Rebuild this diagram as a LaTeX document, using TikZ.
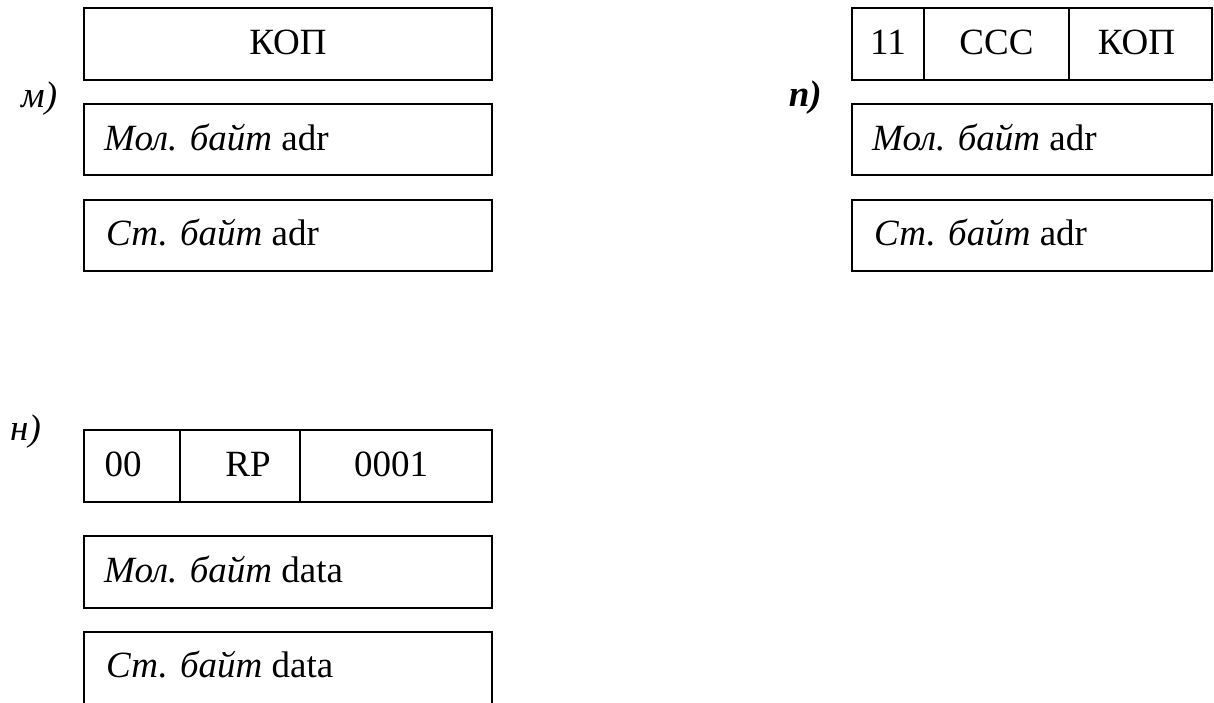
\documentclass[tikz,border=0pt]{standalone}
\usepackage{fontspec}
\setmainfont{Liberation Serif}
\begin{document}
\begin{tikzpicture}[x=1pt,y=-1pt,
  cell/.style={draw,line width=2pt,inner sep=0pt,outer sep=0pt},
  txt/.style={inner sep=0pt,anchor=base,font=\fontsize{37}{44}\selectfont},
  ltxt/.style={inner sep=0pt,anchor=base west,font=\fontsize{37}{44}\selectfont},
  lbl/.style={inner sep=0pt,font=\fontsize{37}{44}\selectfont\itshape}]
\useasboundingbox (0,0) rectangle (1214,702);
% м)
\node[lbl,anchor=base west] (lm) at (21,107) {м)};
\node[cell,minimum width=408pt,minimum height=72pt] (m1) at (288,44) {};
\node[cell,minimum width=408pt,minimum height=71pt] (m2) at (288,139.5) {};
\node[cell,minimum width=408pt,minimum height=71pt] (m3) at (288,235.5) {};
\node[txt] (m1t) at (288,54) {КОП};
\node[ltxt] (m2t) at (104,150) {\textit{Мол. байт} adr};
\node[ltxt] (m3t) at (106,245) {\textit{Ст. байт} adr};
% п)
\node[lbl,anchor=base east,font=\fontsize{37}{44}\selectfont\bfseries\itshape] (lp) at (822,106) {п)};
\node[cell,minimum width=72pt,minimum height=72pt] (p1a) at (888,44) {};
\node[cell,minimum width=145pt,minimum height=72pt] (p1b) at (996.5,44) {};
\node[cell,minimum width=143pt,minimum height=72pt] (p1c) at (1140.5,44) {};
\node[txt] at (p1a.center) [yshift=-10pt] {11};
\node[txt] at (p1b.center) [yshift=-10pt] {CCC};
\node[txt] at (p1c.center) [yshift=-10pt,xshift=-4pt] {КОП};
\node[cell,minimum width=360pt,minimum height=71pt] (p2) at (1032,139.5) {};
\node[cell,minimum width=360pt,minimum height=71pt] (p3) at (1032,235.5) {};
\node[ltxt] (p2t) at (872,150) {\textit{Мол. байт} adr};
\node[ltxt] (p3t) at (874,245) {\textit{Ст. байт} adr};
% н)
\node[lbl,anchor=base west] (ln) at (10,440) {н)};
\node[cell,minimum width=96pt,minimum height=72pt] (n1a) at (132,466) {};
\node[cell,minimum width=120pt,minimum height=72pt] (n1b) at (240,466) {};
\node[cell,minimum width=192pt,minimum height=72pt] (n1c) at (396,466) {};
\node[txt] at (123,476) {00};
\node[txt] at (248,476) {RP};
\node[txt] at (391,476) {0001};
\node[cell,minimum width=408pt,minimum height=72pt] (n2) at (288,572) {};
\node[ltxt] (n2t) at (104,582) {\textit{Мол. байт} data};
\coordinate (n3bl) at (84,704);
\coordinate (n3tl) at (84,632);
\coordinate (n3tr) at (492,632);
\coordinate (n3br) at (492,704);
\draw[line width=2pt] (n3bl) -- (n3tl) -- (n3tr) -- (n3br);
\node[ltxt] (n3t) at (106,677) {\textit{Ст. байт} data};
\end{tikzpicture}
\end{document}
